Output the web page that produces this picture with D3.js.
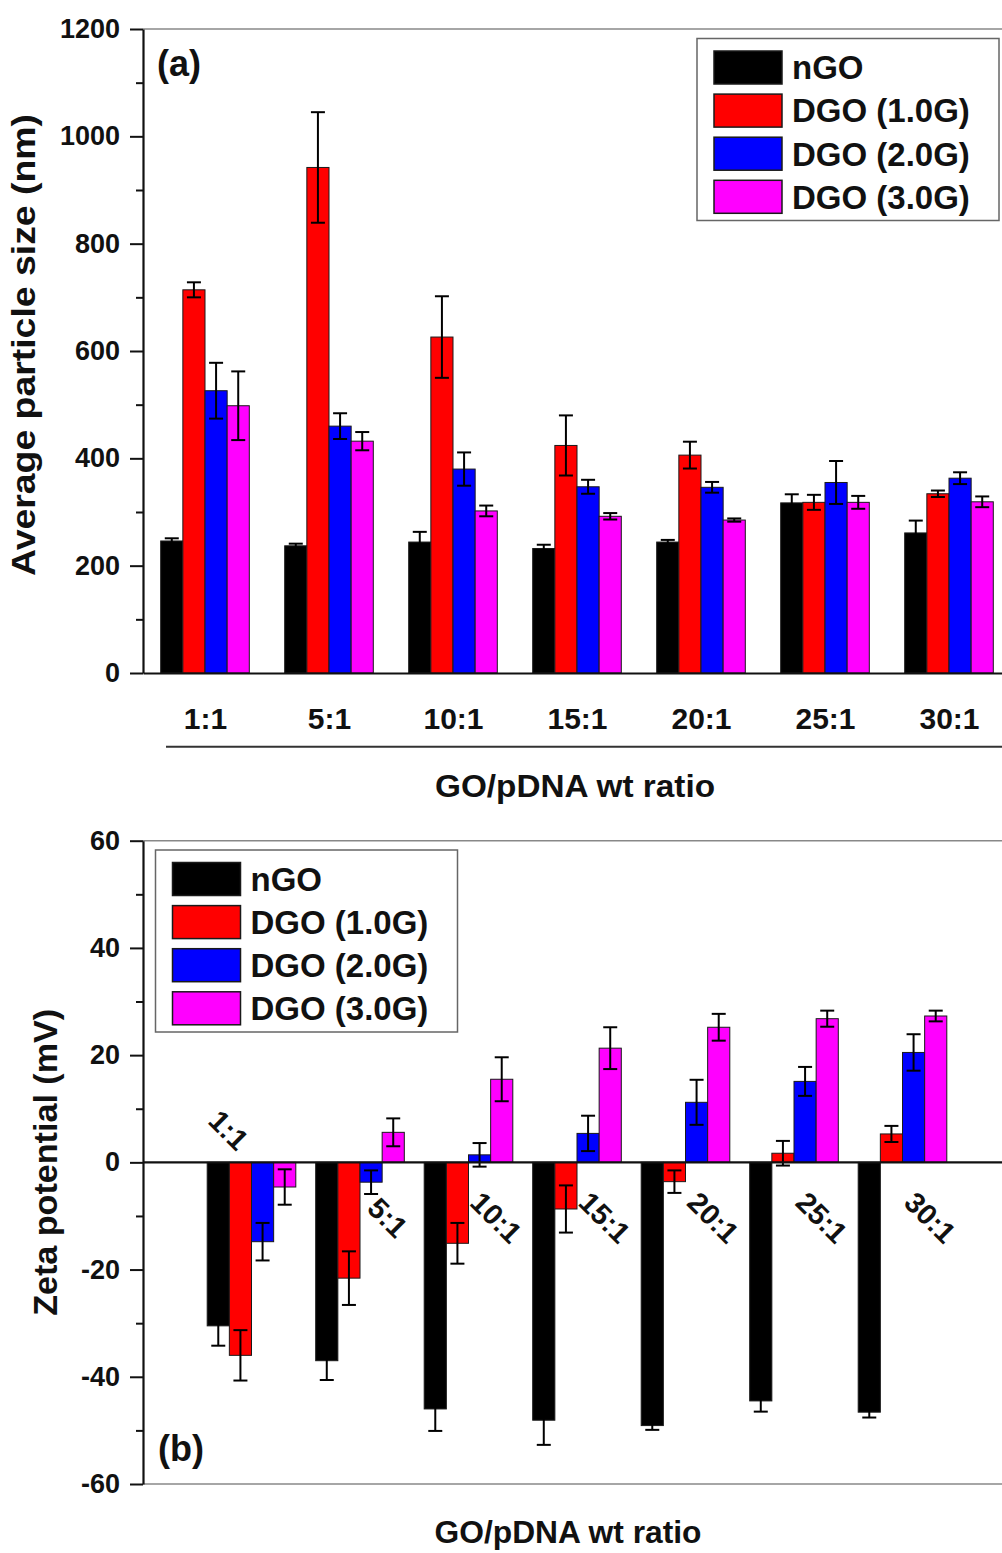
<!DOCTYPE html>
<html>
<head>
<meta charset="utf-8">
<script src="https://cdn.jsdelivr.net/npm/d3@7"></script>
<style>
	html, body { margin: 0; padding: 0; background: #fff; }
	svg text { font-family: 'Liberation Sans', Arial, sans-serif; font-weight: bold; fill: #111; }
</style>
</head>
<body>
<div id="chart"></div>
<script>
const ratios = ['1:1', '5:1', '10:1', '15:1', '20:1', '25:1', '30:1'];
const seriesNames = ['nGO', 'DGO (1.0G)', 'DGO (2.0G)', 'DGO (3.0G)'];
const seriesColors = ['#000000', '#ff0000', '#0000ff', '#ff00ff'];

// (a) average particle size, nm
const sizeNGO = [246, 237, 244, 232, 244, 317, 261];
const sizeNGOErr = [5, 4, 19, 7, 4, 16, 23];
const sizeDGO1 = [714, 942, 626, 424, 406, 318, 334];
const sizeDGO1Err = [14, 103, 76, 56, 25, 14, 6];
const sizeDGO2 = [526, 460, 380, 347, 346, 355, 363];
const sizeDGO2Err = [52, 24, 31, 13, 10, 40, 11];
const sizeDGO3 = [498, 432, 302, 292, 285, 318, 319];
const sizeDGO3Err = [64, 17, 10, 6, 3, 12, 10];

// (b) zeta potential, mV
const zetaNGO = [-30.5, -37, -46, -48.1, -49.1, -44.5, -46.6];
const zetaNGOErr = [3.7, 3.6, 4.1, 4.6, 0.8, 2, 1];
const zetaDGO1 = [-36, -21.6, -15.1, -8.7, -3.6, 1.7, 5.3];
const zetaDGO1Err = [4.7, 5, 3.8, 4.4, 2.1, 2.3, 1.5];
const zetaDGO2 = [-14.8, -3.7, 1.4, 5.4, 11.2, 15.1, 20.5];
const zetaDGO2Err = [3.5, 2.2, 2.2, 3.3, 4.2, 2.7, 3.4];
const zetaDGO3 = [-4.6, 5.6, 15.5, 21.3, 25.2, 26.8, 27.3];
const zetaDGO3Err = [3.3, 2.6, 4.1, 3.9, 2.5, 1.5, 1];

const sizeTicks = [0, 200, 400, 600, 800, 1000, 1200];
const sizeMinor = [100, 300, 500, 700, 900, 1100];
const zetaTicks = [-60, -40, -20, 0, 20, 40, 60];
const zetaMinor = [-50, -30, -10, 10, 30, 50];

function rows(vals, errs) {
	return ratios.map((r, i) => seriesNames.map((s, j) => ({ ratio: r, series: s, idx: j, value: vals[j][i], err: errs[j][i] })));
}
const sizeData = rows([sizeNGO, sizeDGO1, sizeDGO2, sizeDGO3], [sizeNGOErr, sizeDGO1Err, sizeDGO2Err, sizeDGO3Err]).flat();
const zetaData = rows([zetaNGO, zetaDGO1, zetaDGO2, zetaDGO3], [zetaNGOErr, zetaDGO1Err, zetaDGO2Err, zetaDGO3Err]).flat();

const W = 1002, H = 1553;
const axisX = 143, plotRight = 1011;
const svg = d3.select('#chart').append('svg')
	.attr('width', W).attr('height', H)
	.attr('viewBox', `0 0 ${W} ${H}`);

const inner = d3.scaleBand().domain(seriesNames).range([-44.3, 44.3]).padding(0);

function yAxis(g, y, ticks, minor) {
	g.append('g')
		.attr('transform', `translate(${axisX},0)`)
		.call(d3.axisLeft(y).tickValues(minor).tickSize(7).tickSizeOuter(0).tickFormat(''))
		.call(a => a.select('.domain').remove())
		.selectAll('line').attr('stroke', '#111').attr('stroke-width', 2);
	const ax = g.append('g')
		.attr('transform', `translate(${axisX},0)`)
		.call(d3.axisLeft(y).tickValues(ticks).tickSize(13).tickSizeOuter(0).tickPadding(10)
			.tickFormat(d => String(d)));
	ax.select('.domain').attr('stroke', '#111').attr('stroke-width', 2.2);
	ax.selectAll('.tick line').attr('stroke', '#111').attr('stroke-width', 2);
	ax.selectAll('.tick text').style('font-size', '27px').attr('fill', '#111');
}

function bars(g, data, x, y) {
	const y0 = y(0);
	const grp = g.append('g');
	grp.selectAll('rect')
		.data(data)
		.enter()
		.append('rect')
		.attr('x', d => x(d.ratio) + inner(d.series))
		.attr('width', inner.bandwidth())
		.attr('y', d => Math.min(y(d.value), y0))
		.attr('height', d => Math.abs(y(d.value) - y0))
		.attr('fill', d => seriesColors[d.idx])
		.attr('stroke', '#1a1a1a')
		.attr('stroke-width', 1);

	// error bars
	const eb = grp.selectAll('.err')
		.data(data)
		.enter()
		.append('g')
		.attr('class', 'err')
		.attr('stroke', '#000')
		.attr('stroke-width', 2)
		.attr('transform', d => `translate(${x(d.ratio) + inner(d.series) + inner.bandwidth() / 2},0)`);
	eb.append('line')
		.attr('y1', d => y(d.value - d.err))
		.attr('y2', d => y(d.value + d.err));
	eb.append('line')
		.attr('x1', -7).attr('x2', 7)
		.attr('y1', d => y(d.value + d.err)).attr('y2', d => y(d.value + d.err));
	eb.append('line')
		.attr('x1', -7).attr('x2', 7)
		.attr('y1', d => y(d.value - d.err)).attr('y2', d => y(d.value - d.err));
}

function legend(g, left, top) {
	g.append('rect')
		.attr('x', left).attr('y', top)
		.attr('width', 302).attr('height', 182)
		.attr('fill', '#fff')
		.attr('stroke', '#666').attr('stroke-width', 1.5);
	const item = g.selectAll('.leg')
		.data(seriesNames)
		.enter()
		.append('g')
		.attr('transform', (d, i) => `translate(${left + 17},${top + 12.5 + i * 43.1})`);
	item.append('rect')
		.attr('width', 68).attr('height', 33)
		.attr('fill', (d, i) => seriesColors[i])
		.attr('stroke', '#1a1a1a').attr('stroke-width', 1.5);
	item.append('text')
		.attr('x', 78).attr('y', 16.5)
		.attr('dy', '0.36em')
		.style('font-size', '33px')
		.text(d => d);
}

// ---------- (a) particle size ----------
const gA = svg.append('g');
const yA = d3.scaleLinear().domain([0, 1200]).range([673, 29]);
const xA = d3.scalePoint().domain(ratios).range([axisX, plotRight]).padding(0.5);

gA.append('line')
	.attr('x1', axisX).attr('x2', plotRight)
	.attr('y1', yA(1200)).attr('y2', yA(1200))
	.attr('stroke', '#888').attr('stroke-width', 1.5);

bars(gA, sizeData, xA, yA);

const xAxisA = gA.append('g')
	.attr('transform', `translate(0,${yA(0)})`)
	.call(d3.axisBottom(xA).tickSize(0).tickSizeOuter(0).tickPadding(34.7));
xAxisA.select('.domain').attr('stroke', '#111').attr('stroke-width', 2.2);
xAxisA.selectAll('.tick text').style('font-size', '30px').attr('fill', '#111');

yAxis(gA, yA, sizeTicks, sizeMinor);

gA.append('line')
	.attr('x1', 166).attr('x2', plotRight)
	.attr('y1', 746.7).attr('y2', 746.7)
	.attr('stroke', '#333').attr('stroke-width', 2);

legend(gA, 697, 38.5);

gA.append('text')
	.attr('x', 157).attr('y', 76)
	.style('font-size', '36px')
	.text('(a)');

gA.append('text')
	.attr('transform', `translate(35,${(113 + 577) / 2}) rotate(-90)`)
	.attr('text-anchor', 'middle')
	.attr('textLength', 462).attr('lengthAdjust', 'spacingAndGlyphs')
	.style('font-size', '34px')
	.text('Average particle size (nm)');

gA.append('text')
	.attr('x', 575).attr('y', 797)
	.attr('text-anchor', 'middle')
	.attr('textLength', 280).attr('lengthAdjust', 'spacingAndGlyphs')
	.style('font-size', '32px')
	.text('GO/pDNA wt ratio');

// ---------- (b) zeta potential ----------
const gB = svg.append('g');
const yB = d3.scaleLinear().domain([-60, 60]).range([1484, 840.7]);
const xB = d3.scalePoint().domain(ratios).range([axisX, plotRight]).padding(1);

gB.selectAll('.frame')
	.data([60, -60])
	.enter()
	.append('line')
	.attr('x1', axisX).attr('x2', plotRight)
	.attr('y1', d => yB(d)).attr('y2', d => yB(d))
	.attr('stroke', '#888').attr('stroke-width', 1.5);

bars(gB, zetaData, xB, yB);

gB.append('line')
	.attr('x1', axisX).attr('x2', plotRight)
	.attr('y1', yB(0)).attr('y2', yB(0))
	.attr('stroke', '#111').attr('stroke-width', 2.2);

// rotated ratio labels along the zero line, first one sits above it
gB.selectAll('.ratio')
	.data(ratios)
	.enter()
	.append('text')
	.attr('text-anchor', 'middle')
	.attr('dy', '0.36em')
	.style('font-size', '29px')
	.attr('transform', (d, i) => {
		const cx = i === 0 ? xB(d) - 22.6 : xB(d) + 28;
		const cy = i === 0 ? yB(0) - 32.5 : yB(0) + 55;
		return `translate(${cx},${cy}) rotate(45)`;
	})
	.text(d => d);

yAxis(gB, yB, zetaTicks, zetaMinor);

legend(gB, 155.5, 850);

gB.append('text')
	.attr('x', 158).attr('y', 1461)
	.style('font-size', '36px')
	.text('(b)');

gB.append('text')
	.attr('transform', `translate(57,${yB(0)}) rotate(-90)`)
	.attr('text-anchor', 'middle')
	.attr('textLength', 307).attr('lengthAdjust', 'spacingAndGlyphs')
	.style('font-size', '34px')
	.text('Zeta potential (mV)');

gB.append('text')
	.attr('x', 568).attr('y', 1543)
	.attr('text-anchor', 'middle')
	.attr('textLength', 267).attr('lengthAdjust', 'spacingAndGlyphs')
	.style('font-size', '32px')
	.text('GO/pDNA wt ratio');
</script>
</body>
</html>
